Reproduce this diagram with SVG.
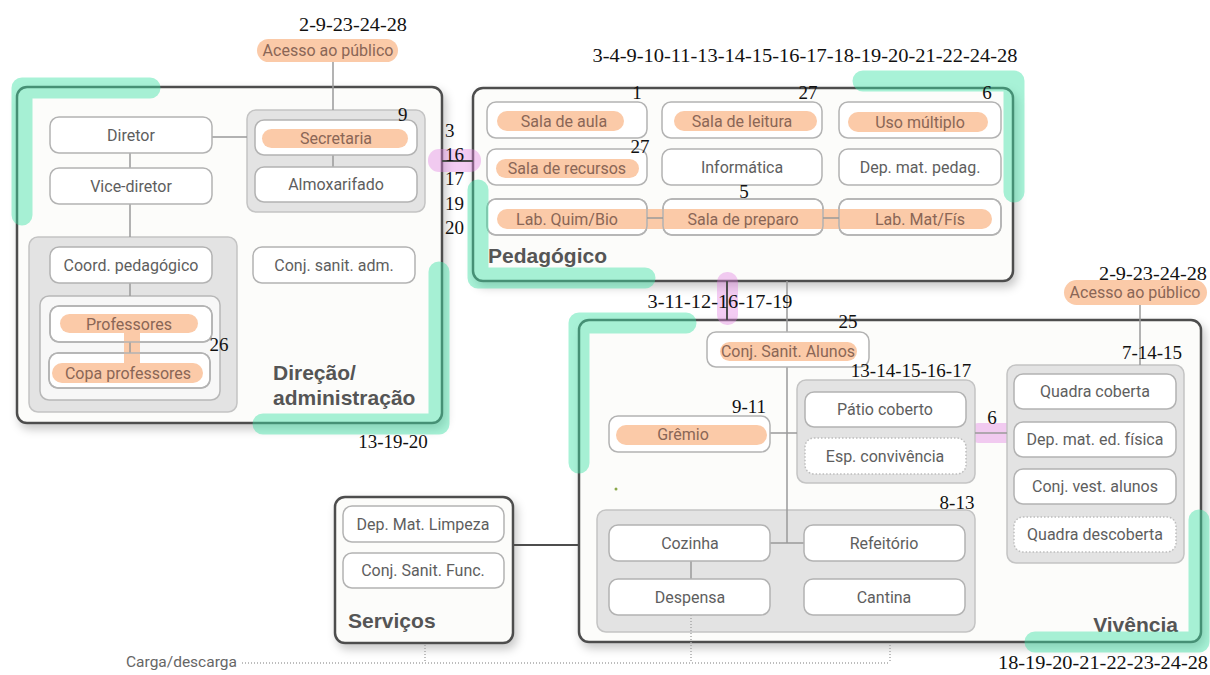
<svg xmlns="http://www.w3.org/2000/svg" width="1210" height="675" viewBox="0 0 1210 675">
<defs>
<filter id="sh" x="-10%" y="-10%" width="120%" height="125%">
<feDropShadow dx="3" dy="5" stdDeviation="5" flood-color="#000" flood-opacity="0.22"/>
</filter>
<style>
.main{fill:#fcfcfa;stroke:#4d4d4d;stroke-width:2.5;filter:url(#sh)}
.grp{fill:#e3e3e3;stroke:#c4c4c4;stroke-width:1.5}
.inner{fill:#f7f7f7;stroke:#b8b8b8;stroke-width:1.5}
.box{fill:#fff;stroke:#b3b3b3;stroke-width:1.5}
.ol{fill:none;stroke:#b3b3b3;stroke-width:1.5}
.dot{fill:#fff;stroke:#bdbdbd;stroke-width:1.5;stroke-dasharray:1.5 2}
.pill{fill:#fbcaa8}
.lbl{font-family:Roboto,"Liberation Sans",sans-serif;font-size:16px;fill:#5e5e5e;text-anchor:middle}
.pl{fill:#8a6656}
.num{font-family:"Liberation Serif",serif;font-size:19px;fill:#111}
.mid{text-anchor:middle}
.head{font-family:"Liberation Sans",sans-serif;font-weight:bold;font-size:21px;fill:#555}
.ln{stroke:#9a9a9a;stroke-width:1.5;fill:none}
.dk{stroke:#4d4d4d;stroke-width:2;fill:none}
.dt{stroke:#a8a8a8;stroke-width:1.5;stroke-dasharray:1 2;fill:none}
.hl{fill:none;stroke:#3ee3a6;stroke-opacity:0.45;stroke-width:21;stroke-linecap:round;stroke-linejoin:round}
.pk{fill:#e080e0;opacity:0.4}
</style>
</defs>
<rect width="1210" height="675" fill="#fff"/>

<g id="area-direcao"><rect class="main" x="17" y="87" width="425" height="336" rx="10"/></g>
<g id="area-pedagogico"><rect class="main" x="473" y="88" width="540" height="193" rx="10"/></g>
<g id="area-vivencia"><rect class="main" x="579" y="320" width="622" height="322" rx="10"/></g>
<g id="area-servicos"><rect class="main" x="335" y="497" width="178" height="146" rx="10"/></g>

<g id="pink-highlights">
<rect class="pk" x="428" y="149" width="53" height="23" rx="11"/>
<rect class="pk" x="717" y="272" width="21" height="53" rx="10"/>
<rect class="pk" x="968" y="423" width="53" height="20" rx="10"/>
</g>

<g id="grp-secretaria"><rect class="grp" x="247" y="110" width="178" height="102" rx="9"/></g>
<g id="grp-coord"><rect class="grp" x="29" y="237" width="208" height="175" rx="9"/></g>
<g id="grp-professores"><rect class="inner" x="40" y="296" width="180" height="104" rx="9"/></g>
<g id="grp-patio"><rect class="grp" x="797" y="380" width="178" height="103" rx="9"/></g>
<g id="grp-quadra"><rect class="grp" x="1007" y="365" width="177" height="198" rx="9"/></g>
<g id="grp-cozinha"><rect class="grp" x="597" y="510" width="378" height="122" rx="9"/></g>

<g id="connectors">
<line class="ln" x1="333" y1="62" x2="333" y2="110"/>
<line class="ln" x1="212" y1="137" x2="247" y2="137"/>
<line class="ln" x1="333" y1="155" x2="333" y2="167"/>
<line class="ln" x1="130" y1="153" x2="130" y2="168"/>
<line class="ln" x1="130" y1="204" x2="130" y2="237"/>
<line class="ln" x1="130" y1="283" x2="130" y2="296"/>
<line class="dk" x1="442" y1="161" x2="473" y2="161" stroke-width="1.8"/>
<line class="dk" x1="727" y1="281" x2="727" y2="320"/>
<line class="ln" x1="787" y1="281" x2="787" y2="332"/>
<line class="ln" x1="787" y1="367" x2="787" y2="543"/>
<line class="ln" x1="770" y1="543" x2="804" y2="543"/>
<line class="ln" x1="691" y1="561" x2="691" y2="579"/>
<line class="ln" x1="770" y1="433" x2="797" y2="433"/>
<line class="ln" x1="975" y1="433" x2="1007" y2="433"/>
<line class="ln" x1="1140" y1="305" x2="1140" y2="365"/>
<line class="dk" x1="513" y1="545" x2="579" y2="545" stroke-width="2.5"/>
<line class="dt" x1="425" y1="645" x2="425" y2="663"/>
<line class="dt" x1="691" y1="615" x2="691" y2="663"/>
<line class="dt" x1="890" y1="645" x2="890" y2="663"/>
<line class="dt" x1="242" y1="663" x2="890" y2="663"/>
</g>

<g id="acesso-1"><rect class="pill" x="257" y="39" width="141" height="23" rx="11.5"/><text class="lbl pl" x="328" y="56" font-size="15">Acesso ao público</text></g>
<g id="diretor"><rect class="box" x="50" y="117" width="162" height="36" rx="9"/><text class="lbl" x="131" y="141">Diretor</text></g>
<g id="vice-diretor"><rect class="box" x="50" y="168" width="162" height="36" rx="9"/><text class="lbl" x="131" y="192">Vice-diretor</text></g>
<g id="secretaria"><rect class="box" x="255" y="120" width="162" height="35" rx="9"/><rect class="pill" x="262" y="129" width="146" height="19" rx="9.5"/><text class="lbl pl" x="336" y="144">Secretaria</text></g>
<g id="almoxarifado"><rect class="box" x="255" y="167" width="162" height="35" rx="9"/><text class="lbl" x="336" y="190">Almoxarifado</text></g>
<g id="coord"><rect class="box" x="50" y="247" width="162" height="36" rx="9"/><text class="lbl" x="131" y="271">Coord. pedagógico</text></g>
<g id="conj-sanit-adm"><rect class="box" x="253" y="247" width="162" height="36" rx="9"/><text class="lbl" x="334" y="271">Conj. sanit. adm.</text></g>
<g id="professores"><rect class="box" x="50" y="306" width="162" height="36" rx="9"/><rect class="pill" x="60" y="314" width="138" height="19" rx="9.5"/><text class="lbl pl" x="129" y="330">Professores</text></g>
<g id="copa"><rect class="box" x="49" y="353" width="161" height="35" rx="9"/><rect class="pill" x="52" y="363" width="151" height="20" rx="10"/><text class="lbl pl" x="128" y="379">Copa professores</text></g>
<g id="prof-link"><rect class="pill" x="124" y="331" width="16" height="34"/><line class="ln" x1="130" y1="342" x2="130" y2="353"/><rect class="ol" x="50" y="306" width="162" height="36" rx="9"/><rect class="ol" x="49" y="353" width="161" height="35" rx="9"/></g>

<g id="sala-aula"><rect class="box" x="487" y="102" width="160" height="36" rx="9"/><rect class="pill" x="497" y="111" width="127" height="20" rx="10"/><text class="lbl pl" x="564" y="127">Sala de aula</text></g>
<g id="sala-leitura"><rect class="box" x="662" y="102" width="160" height="36" rx="9"/><rect class="pill" x="674" y="111" width="143" height="20" rx="10"/><text class="lbl pl" x="742" y="127">Sala de leitura</text></g>
<g id="uso-multiplo"><rect class="box" x="839" y="102" width="162" height="36" rx="9"/><rect class="pill" x="848" y="112" width="140" height="20" rx="10"/><text class="lbl pl" x="920" y="128">Uso múltiplo</text></g>
<g id="sala-recursos"><rect class="box" x="487" y="149" width="160" height="36" rx="9"/><rect class="pill" x="496" y="159" width="143" height="19" rx="9.5"/><text class="lbl pl" x="567" y="174">Sala de recursos</text></g>
<g id="informatica"><rect class="box" x="662" y="149" width="160" height="36" rx="9"/><text class="lbl" x="742" y="173">Informática</text></g>
<g id="dep-mat-pedag"><rect class="box" x="839" y="149" width="162" height="36" rx="9"/><text class="lbl" x="920" y="173">Dep. mat. pedag.</text></g>
<g id="lab-row">
<rect class="box" x="487" y="199" width="160" height="36" rx="9"/>
<rect class="box" x="663" y="199" width="160" height="36" rx="9"/>
<rect class="box" x="839" y="199" width="162" height="36" rx="9"/>
<rect class="pill" x="497" y="209" width="495" height="20" rx="10"/>
<rect class="ol" x="487" y="199" width="160" height="36" rx="9"/>
<rect class="ol" x="663" y="199" width="160" height="36" rx="9"/>
<rect class="ol" x="839" y="199" width="162" height="36" rx="9"/>
<line class="ln" x1="647" y1="218" x2="663" y2="218"/>
<line class="ln" x1="823" y1="218" x2="839" y2="218"/>
</g>
<g id="lab-quim"><text class="lbl pl" x="567" y="225">Lab. Quim/Bio</text></g>
<g id="sala-preparo"><text class="lbl pl" x="743" y="225">Sala de preparo</text></g>
<g id="lab-mat"><text class="lbl pl" x="920" y="225">Lab. Mat/Fís</text></g>

<g id="acesso-2"><rect class="pill" x="1064" y="280" width="143" height="25" rx="12.5"/><text class="lbl pl" x="1135" y="298" font-size="15">Acesso ao público</text></g>
<g id="conj-sanit-alunos"><rect class="box" x="707" y="332" width="162" height="35" rx="9"/><rect class="pill" x="720" y="342" width="137" height="19" rx="9.5"/><text class="lbl pl" x="788" y="357">Conj. Sanit. Alunos</text></g>
<g id="gremio"><rect class="box" x="609" y="416" width="161" height="36" rx="9"/><rect class="pill" x="616" y="425" width="151" height="20" rx="10"/><text class="lbl pl" x="683" y="440">Grêmio</text></g>
<g id="patio"><rect class="box" x="805" y="392" width="161" height="35" rx="9"/><text class="lbl" x="885" y="415">Pátio coberto</text></g>
<g id="esp-conv"><rect class="dot" x="805" y="438" width="161" height="36" rx="9"/><text class="lbl" x="885" y="462">Esp. convivência</text></g>
<g id="quadra-coberta"><rect class="box" x="1014" y="374" width="162" height="35" rx="9"/><text class="lbl" x="1095" y="397">Quadra coberta</text></g>
<g id="dep-ed-fisica"><rect class="box" x="1014" y="422" width="162" height="35" rx="9"/><text class="lbl" x="1095" y="445">Dep. mat. ed. física</text></g>
<g id="conj-vest"><rect class="box" x="1014" y="469" width="162" height="35" rx="9"/><text class="lbl" x="1095" y="492">Conj. vest. alunos</text></g>
<g id="quadra-descoberta"><rect class="dot" x="1014" y="517" width="162" height="35" rx="9"/><text class="lbl" x="1095" y="540">Quadra descoberta</text></g>
<g id="cozinha"><rect class="box" x="609" y="525" width="161" height="36" rx="9"/><text class="lbl" x="690" y="549">Cozinha</text></g>
<g id="refeitorio"><rect class="box" x="804" y="525" width="161" height="36" rx="9"/><text class="lbl" x="884" y="549">Refeitório</text></g>
<g id="despensa"><rect class="box" x="609" y="579" width="161" height="36" rx="9"/><text class="lbl" x="690" y="603">Despensa</text></g>
<g id="cantina"><rect class="box" x="804" y="579" width="161" height="36" rx="9"/><text class="lbl" x="884" y="603">Cantina</text></g>
<circle cx="616" cy="489" r="1.5" fill="#8aa84a"/>

<g id="dep-limpeza"><rect class="box" x="343" y="506" width="161" height="36" rx="9"/><text class="lbl" x="423" y="530" fill="#555">Dep. Mat. Limpeza</text></g>
<g id="conj-func"><rect class="box" x="343" y="553" width="161" height="35" rx="9"/><text class="lbl" x="423" y="576" fill="#555">Conj. Sanit. Func.</text></g>

<g id="headings">
<text class="head" x="273" y="380">Direção/</text>
<text class="head" x="273" y="405">administração</text>
<text class="head" x="488" y="263">Pedagógico</text>
<text class="head" x="1178" y="632" text-anchor="end">Vivência</text>
<text class="head" x="348" y="628">Serviços</text>
<text x="126" y="667" font-family="Roboto,'Liberation Sans',sans-serif" font-size="15.5" fill="#666">Carga/descarga</text>
</g>

<g id="green-highlights">
<path class="hl" d="M150,88 L22,88 L22,215"/>
<path class="hl" d="M439,272 L439,424 L263,424"/>
<path class="hl" d="M863,81 L1014,81 L1014,192"/>
<path class="hl" d="M478,190 L478,278 L645,278"/>
<path class="hl" d="M686,323 L579,323 L579,463"/>
<path class="hl" d="M1199,520 L1199,642 L1035,642"/>
</g>

<g id="numbers">
<text class="num mid" x="353" y="31" textLength="108" lengthAdjust="spacingAndGlyphs">2-9-23-24-28</text>
<text class="num" x="398" y="121">9</text>
<text class="num" x="445" y="137">3</text>
<text class="num" x="445" y="161">16</text>
<text class="num" x="445" y="185">17</text>
<text class="num" x="445" y="210">19</text>
<text class="num" x="445" y="234">20</text>
<text class="num mid" x="219" y="351">26</text>
<text class="num mid" x="393" y="448">13-19-20</text>
<text class="num mid" x="805" y="62" textLength="425" lengthAdjust="spacingAndGlyphs">3-4-9-10-11-13-14-15-16-17-18-19-20-21-22-24-28</text>
<text class="num mid" x="637" y="99">1</text>
<text class="num mid" x="808" y="99">27</text>
<text class="num mid" x="987" y="99">6</text>
<text class="num mid" x="640" y="153">27</text>
<text class="num mid" x="744" y="198">5</text>
<text class="num mid" x="720" y="308" textLength="145" lengthAdjust="spacingAndGlyphs">3-11-12-16-17-19</text>
<text class="num mid" x="848" y="328">25</text>
<text class="num mid" x="1153" y="280" textLength="108" lengthAdjust="spacingAndGlyphs">2-9-23-24-28</text>
<text class="num mid" x="1152" y="359">7-14-15</text>
<text class="num mid" x="911" y="377">13-14-15-16-17</text>
<text class="num mid" x="749" y="413">9-11</text>
<text class="num mid" x="992" y="424">6</text>
<text class="num mid" x="957" y="509">8-13</text>
<text class="num mid" x="1103" y="669" textLength="210" lengthAdjust="spacingAndGlyphs">18-19-20-21-22-23-24-28</text>
</g>
</svg>
